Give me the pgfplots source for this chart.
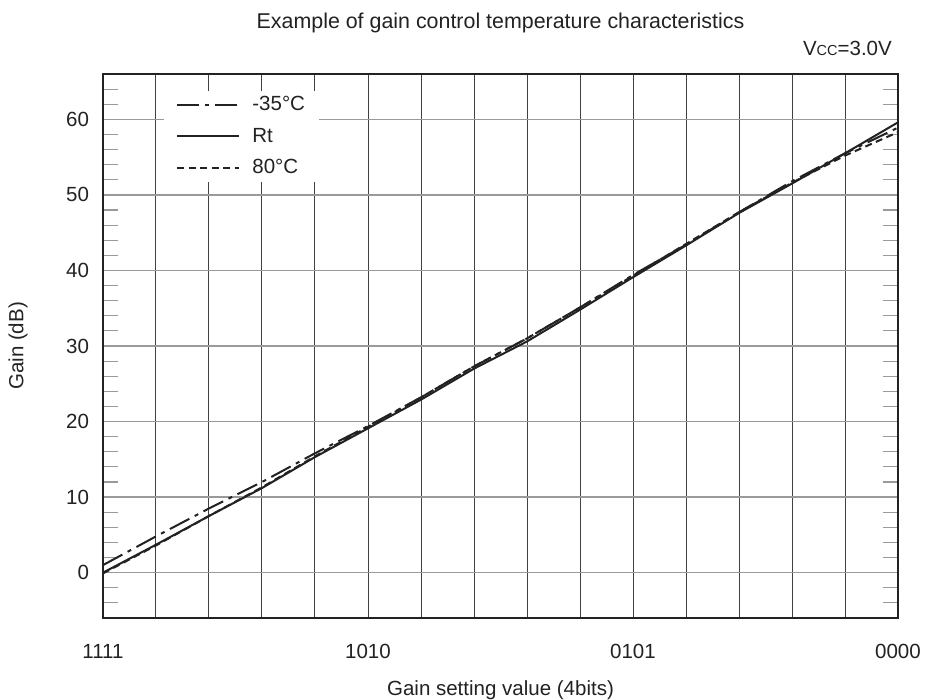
\documentclass[border=0pt]{standalone}
\usepackage{pgfplots}
\pgfplotsset{compat=1.18}
\usepackage{fontspec}
\setmainfont{Liberation Sans}
\definecolor{ink}{HTML}{222222}
\definecolor{hgrid}{HTML}{9A9A9A}
\definecolor{vgrid}{HTML}{404040}
\begin{document}
\fontsize{20.5}{24}\selectfont
\begin{tikzpicture}
\useasboundingbox (-103pt,-82pt) rectangle (824pt,618pt);
\begin{axis}[
  at={(0pt,0pt)}, anchor=south west,
  scale only axis, width=795pt, height=544pt,
  xmin=0, xmax=15, ymin=-6, ymax=66,
  xtick={0,...,15},
  xticklabels={1111,,,,,1010,,,,,0101,,,,,0000},
  ytick={0,10,...,60},
  minor ytick={-4,-2,...,64},
  major tick length=0pt,
  minor tick length=15pt,
  minor tick style={hgrid, line width=1.1pt},
  xmajorgrids, ymajorgrids,
  x grid style={vgrid, line width=1pt},
  y grid style={hgrid, line width=1.4pt},
  axis line style={ink, line width=2pt},
  /pgf/number format/assume math mode=true,
  ticklabel style={ink},
  xticklabel style={yshift=-19pt},
  yticklabel style={xshift=-7pt},
  clip=false,
  legend cell align=left,
  legend image code/.code={\draw[#1] (0pt,0pt) -- (62pt,0pt); \path (72pt,0pt);},
  legend style={at={(axis description cs:0.077,0.97)}, anchor=north west,
    draw=none, fill=white, inner xsep=12pt, inner ysep=4pt, row sep=10pt,
    text=ink},
]
\addplot[ink, line width=2pt, dash pattern=on 22pt off 6pt on 4pt off 6pt] coordinates {
  (0,1.0) (1,4.8) (2,8.5) (3,12.0) (4,15.8) (5,19.4) (6,23.2) (7,27.3)
  (8,31.0) (9,35.1) (10,39.4) (11,43.4) (12,47.7) (13,51.8) (14,55.5) (15,58.9)
};
\addlegendentry{-35°C}
\addplot[ink, line width=2pt] coordinates {
  (0,0.0) (1,3.7) (2,7.5) (3,11.2) (4,15.3) (5,19.1) (6,22.9) (7,27.0)
  (8,30.6) (9,34.8) (10,39.1) (11,43.3) (12,47.6) (13,51.5) (14,55.5) (15,59.6)
};
\addlegendentry{Rt}
\addplot[ink, line width=2pt, dash pattern=on 7pt off 4.5pt] coordinates {
  (0,-0.1) (1,3.6) (2,7.5) (3,11.3) (4,15.4) (5,19.3) (6,23.2) (7,27.3)
  (8,31.0) (9,35.1) (10,39.3) (11,43.5) (12,47.7) (13,51.6) (14,55.2) (15,58.3)
};
\addlegendentry{80°C}
\node[ink, inner sep=0pt, font=\fontsize{21.4}{25}\selectfont] at (rel axis cs:0.5,1) [yshift=51pt] {Example of gain control temperature characteristics};
\node[ink, inner sep=0pt, anchor=east] at (rel axis cs:1,1) [xshift=-6pt, yshift=26pt] {V{\fontsize{14.5}{16}\selectfont CC}=3.0V};
\node[ink, inner sep=0pt] at (rel axis cs:0.5,0) [yshift=-72pt] {Gain setting value (4bits)};
\path (rel axis cs:0,0.5) ++(-85pt,0pt) node[ink, inner sep=0pt, rotate=90] {Gain (dB)};
\end{axis}
\end{tikzpicture}
\end{document}
